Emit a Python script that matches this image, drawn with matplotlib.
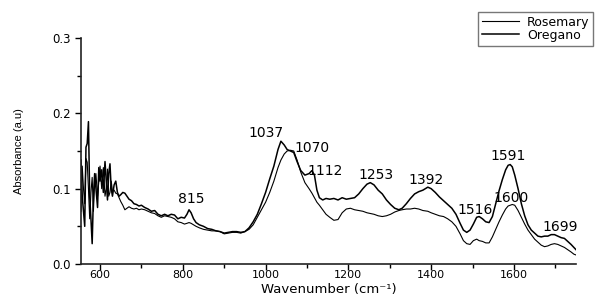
import numpy as np
import matplotlib
matplotlib.use("Agg")
import matplotlib.pyplot as plt
from matplotlib.ticker import MultipleLocator, FormatStrFormatter

# FTIR spectra, values
wavenumber = [554, 557, 560, 563, 566, 569, 572, 575, 578, 581, 584, 587, 590, 594, 597,
              600, 604, 608, 612, 615, 618, 621, 624, 627, 630, 634, 638, 642, 646, 650,
              655, 660, 665, 670, 676, 682, 688, 694, 700, 708, 716, 724, 732, 740, 748,
              756, 764, 772, 780, 788, 796, 804, 810, 815, 820, 826, 832, 840, 850, 860,
              870, 880, 890, 900, 910, 920, 930, 940, 950, 960, 970, 980, 990, 1000, 1010,
              1020, 1030, 1037, 1045, 1052, 1060, 1068, 1076, 1085, 1095, 1105, 1112, 1118, 1124, 1130,
              1138, 1146, 1155, 1165, 1175, 1185, 1195, 1205, 1215, 1225, 1235, 1245, 1253, 1262, 1272,
              1282, 1292, 1302, 1312, 1322, 1330, 1340, 1350, 1360, 1370, 1380, 1392, 1400, 1410, 1420,
              1430, 1440, 1450, 1460, 1470, 1478, 1486, 1494, 1502, 1510, 1516, 1524, 1532, 1540, 1548,
              1556, 1564, 1572, 1580, 1586, 1591, 1596, 1602, 1610, 1618, 1626, 1634, 1642, 1650, 1658,
              1666, 1674, 1682, 1690, 1698, 1706, 1714, 1722, 1730, 1738, 1745, 1750]

oregano = [0.138, 0.09, 0.07, 0.05, 0.155, 0.16, 0.189, 0.09, 0.06, 0.027, 0.09, 0.12, 0.10, 0.075, 0.128,
           0.11, 0.125, 0.095, 0.136, 0.11, 0.085, 0.12, 0.133, 0.10, 0.09, 0.105, 0.11, 0.095, 0.09, 0.092,
           0.095, 0.094, 0.09, 0.086, 0.084, 0.08, 0.079, 0.077, 0.078, 0.075, 0.073, 0.07, 0.071, 0.066, 0.064,
           0.066, 0.064, 0.066, 0.065, 0.06, 0.062, 0.061, 0.066, 0.072, 0.068, 0.06, 0.055, 0.052, 0.05, 0.047,
           0.046, 0.044, 0.043, 0.041, 0.042, 0.043, 0.043, 0.042, 0.043, 0.048, 0.056, 0.066, 0.08, 0.095, 0.113,
           0.13, 0.152, 0.163, 0.158, 0.152, 0.15, 0.148, 0.136, 0.124, 0.118, 0.12, 0.124, 0.118, 0.098, 0.088,
           0.085, 0.087, 0.086, 0.087, 0.085, 0.088, 0.086, 0.087, 0.088, 0.093, 0.1, 0.106, 0.108, 0.105, 0.098,
           0.093, 0.085, 0.079, 0.074, 0.072, 0.074, 0.08, 0.087, 0.093, 0.096, 0.098, 0.102, 0.1, 0.095, 0.089,
           0.084, 0.079, 0.074, 0.066, 0.054, 0.045, 0.042, 0.045, 0.053, 0.062, 0.063, 0.06, 0.056, 0.055, 0.063,
           0.08, 0.097, 0.112, 0.125, 0.131, 0.132, 0.129, 0.118, 0.1, 0.08, 0.064, 0.052, 0.045, 0.041, 0.037,
           0.036, 0.037, 0.037, 0.039, 0.039, 0.037, 0.035, 0.034, 0.03, 0.026, 0.022, 0.019]

rosemary = [0.07, 0.13, 0.1, 0.08, 0.14, 0.135, 0.1, 0.06, 0.095, 0.115, 0.07, 0.108, 0.12, 0.09, 0.11,
            0.13, 0.1, 0.128, 0.09, 0.1, 0.126, 0.09, 0.095, 0.11, 0.097, 0.098, 0.094, 0.093, 0.088, 0.083,
            0.078, 0.072, 0.074, 0.076, 0.074, 0.073, 0.074, 0.072, 0.073, 0.072, 0.07, 0.068, 0.067, 0.064, 0.062,
            0.064, 0.063, 0.062, 0.06, 0.056, 0.055, 0.053, 0.054, 0.055, 0.054, 0.052, 0.05, 0.048, 0.046, 0.045,
            0.044, 0.044, 0.043, 0.04, 0.041, 0.042, 0.042, 0.041, 0.043, 0.046, 0.052, 0.062, 0.072, 0.082, 0.095,
            0.11, 0.128, 0.138, 0.146, 0.15, 0.151, 0.15, 0.138, 0.122, 0.108, 0.1, 0.094, 0.088, 0.082, 0.078,
            0.072, 0.066, 0.062, 0.058, 0.059, 0.068, 0.073, 0.074, 0.072, 0.071, 0.07, 0.068, 0.067, 0.066, 0.064,
            0.063, 0.064, 0.066, 0.069, 0.071, 0.072, 0.073, 0.073, 0.074, 0.073, 0.071, 0.07, 0.068, 0.066, 0.064,
            0.063, 0.06, 0.056, 0.05, 0.04, 0.031, 0.027, 0.026, 0.031, 0.033, 0.031, 0.03, 0.028, 0.028, 0.036,
            0.046, 0.056, 0.065, 0.073, 0.077, 0.078, 0.079, 0.078, 0.071, 0.062, 0.053, 0.045, 0.039, 0.033, 0.029,
            0.025, 0.023, 0.024, 0.026, 0.027, 0.026, 0.024, 0.022, 0.019, 0.016, 0.013, 0.012]

# peak annotations
peak_labels = ["815", "1037", "1070", "1112", "1253", "1392", "1516", "1591", "1600", "1699"]
label_x = [820, 1002, 1113, 1143, 1267, 1387, 1507, 1585, 1592, 1712]
label_y = [0.086, 0.174, 0.154, 0.123, 0.118, 0.111, 0.072, 0.143, 0.087, 0.049]

fig = plt.figure(figsize=(6.04, 2.99), dpi=100)
ax = fig.add_axes([81/604, 1-264/299, (576-81)/604, (264-38)/299])

l1, = ax.plot(wavenumber, rosemary, color='black', lw=0.8)
l2, = ax.plot(wavenumber, oregano, color='black', lw=1.1)

for t, x, y in zip(peak_labels, label_x, label_y):
    ax.text(x, y, t, ha='center', va='center', fontsize=10, family='DejaVu Sans')

ax.set_xlim(554, 1750)
ax.set_ylim(0, 0.3)
ax.spines['top'].set_visible(False)
ax.spines['right'].set_visible(False)
for s in ['left', 'bottom']:
    ax.spines[s].set_linewidth(1.2)
    ax.spines[s].set_color('#222222')

ax.xaxis.set_major_locator(MultipleLocator(200))
ax.xaxis.set_minor_locator(MultipleLocator(100))
ax.yaxis.set_major_locator(MultipleLocator(0.1))
ax.yaxis.set_minor_locator(MultipleLocator(0.05))
ax.yaxis.set_major_formatter(FormatStrFormatter('%.1f'))
ax.tick_params(which='major', direction='out', length=4, width=1, labelsize=8.5, pad=3.5)
ax.tick_params(axis='x', which='major', labelsize=8, pad=0.5)
ax.tick_params(which='minor', direction='out', length=3, width=1)

ax.set_xlabel('Wavenumber (cm\u207b\u00b9)', fontsize=9.5)
ax.xaxis.set_label_coords(0.5, -0.083)
ax.set_ylabel('Absorbance (a.u)', fontsize=8, family='Liberation Sans', labelpad=20)

leg = fig.legend([l1, l2], ['Rosemary', 'Oregano'], loc='upper left',
                 bbox_to_anchor=(478/604, 1-12/299), fontsize=9, frameon=True,
                 fancybox=False, handlelength=3.0, handletextpad=0.6, borderpad=0.3,
                 labelspacing=0.0, borderaxespad=0)
leg.get_frame().set_edgecolor('#555555')
leg.get_frame().set_linewidth(1)

fig.savefig('out.png', dpi=100)
